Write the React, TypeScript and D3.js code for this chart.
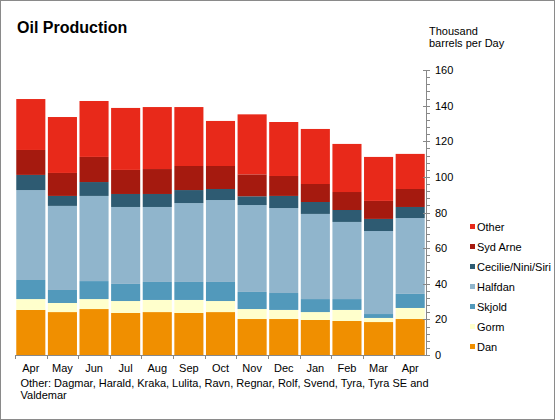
import React from "react";
import * as d3 from "d3";

const months = ["Apr", "May", "Jun", "Jul", "Aug", "Sep", "Oct", "Nov", "Dec", "Jan", "Feb", "Mar", "Apr "];
const seriesNames = ["Dan", "Gorm", "Skjold", "Halfdan", "Cecilie/Nini/Siri", "Syd Arne", "Other"];
const dan = [25.3, 24.1, 25.8, 23.6, 24.1, 23.6, 24.1, 20.2, 20.2, 19.7, 19.1, 18.5, 20.2];
const gorm = [6.1, 5.1, 5.6, 6.7, 6.8, 7.3, 6.2, 5.6, 5.1, 4.4, 6.2, 2.3, 6.2];
const skjold = [10.7, 7.3, 10.1, 9.6, 10.1, 10.1, 10.7, 9.6, 9.5, 7.3, 6.1, 2.2, 7.9];
const halfdan = [50.5, 47.2, 47.8, 43.2, 42.1, 44.3, 46.0, 48.8, 47.7, 47.8, 43.3, 46.6, 42.6];
const cecilie = [8.5, 5.6, 7.8, 7.3, 7.3, 7.3, 6.2, 4.9, 6.8, 6.7, 6.7, 6.8, 6.2];
const sydArne = [14.0, 12.9, 14.1, 13.5, 14.0, 13.5, 12.9, 12.3, 11.2, 10.1, 10.1, 10.1, 10.1];
const other = [28.6, 31.4, 31.4, 34.8, 34.8, 33.1, 25.3, 33.7, 30.3, 30.9, 27.0, 24.7, 19.7];
const yTicks = [0, 20, 40, 60, 80, 100, 120, 140, 160];
const colors = ["#f08f00", "#ffffcc", "#5299bb", "#90b5cc", "#2e5b72", "#a51a0f", "#e8291a"];
const footnote1 = "Other: Dagmar, Harald, Kraka, Lulita, Ravn, Regnar, Rolf, Svend, Tyra, Tyra SE and";
const footnote2 = "Valdemar";

const seriesValues = [dan, gorm, skjold, halfdan, cecilie, sydArne, other];

export default function App() {
  const W = 555, H = 420;
  const font = "Arial, 'Liberation Sans', sans-serif";
  const axisColor = "#888888";
  const x0 = 15, x1 = 426, yBottom = 355, yTop = 70;

  const table = months.map((m, i) => {
    const row: any = { month: m };
    seriesNames.forEach((s, j) => (row[s] = seriesValues[j][i]));
    return row;
  });
  const stacked = d3.stack().keys(seriesNames)(table as any);

  const x = d3.scaleBand().domain(months).range([x0, x1]).paddingInner(0.08).paddingOuter(0.04);
  const y = d3.scaleLinear().domain([0, 160]).range([yBottom, yTop]);
  const minor = d3.range(0, 161, 4);
  const step = x.step();
  const xTickPos = d3.range(0, months.length).map((i) => x0 + i * (x1 - x0) / months.length);

  return (
    <svg width={W} height={H} style={{ position: "absolute", left: 0, top: 0 }} fontFamily={font}>
      <rect x={0.5} y={0.5} width={W - 1} height={H - 1} fill="#fff" stroke="#8a8a8a" />
      <text x={17} y={33} fontSize={16} fontWeight="bold" fill="#000">Oil Production</text>
      <text x={429} y={35} fontSize={11} fill="#000">Thousand</text>
      <text x={429} y={47} fontSize={11} fill="#000">barrels per Day</text>

      {stacked.map((layer, j) => (
        <g key={j} fill={colors[j]}>
          {layer.map((d, i) => (
            <rect key={i} x={x(months[i])} width={x.bandwidth()} y={y(d[1])} height={y(d[0]) - y(d[1])} />
          ))}
        </g>
      ))}

      {/* x axis */}
      <line x1={x0} x2={x1} y1={yBottom + 0.5} y2={yBottom + 0.5} stroke={axisColor} />
      {xTickPos.map((p, i) => (
        <line key={i} x1={Math.round(p) + 0.5} x2={Math.round(p) + 0.5} y1={yBottom} y2={yBottom + 4} stroke={axisColor} />
      ))}
      {months.map((m) => (
        <text key={m} x={(x(m) as number) + x.bandwidth() / 2} y={372} fontSize={11} textAnchor="middle" fill="#000">{m.trim()}</text>
      ))}

      {/* y axis */}
      <line x1={x1 + 0.5} x2={x1 + 0.5} y1={yTop} y2={yBottom + 1} stroke={axisColor} />
      {minor.map((v) => (
        <line key={v} x1={v % 20 === 0 ? x1 - 3 : x1} x2={x1 + 4} y1={Math.round(y(v)) + 0.5} y2={Math.round(y(v)) + 0.5} stroke={axisColor} />
      ))}
      {yTicks.map((v) => (
        <text key={v} x={435} y={y(v) + 4} fontSize={11} fill="#000">{v}</text>
      ))}

      {/* legend */}
      {seriesNames.slice().reverse().map((s, k) => {
        const j = seriesNames.length - 1 - k;
        const cy = 227 + k * 20;
        return (
          <g key={s}>
            <rect x={470} y={cy - 3} width={5} height={5} fill={colors[j]} />
            <text x={477} y={cy + 4} fontSize={11} fill="#000">{s}</text>
          </g>
        );
      })}

      <text x={20.5} y={387} fontSize={11} fill="#000">{footnote1}</text>
      <text x={20.5} y={399} fontSize={11} fill="#000">{footnote2}</text>
    </svg>
  );
}
